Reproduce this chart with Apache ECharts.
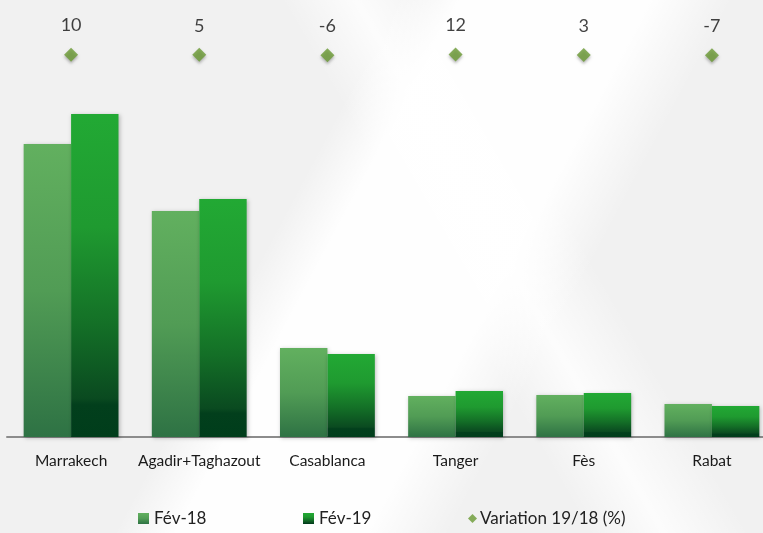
<!DOCTYPE html>
<html><head><meta charset="utf-8">
<script src="https://cdn.jsdelivr.net/npm/echarts@6/dist/echarts.min.js"></script>
<style>
html,body{margin:0;padding:0;}
body{width:763px;height:533px;overflow:hidden;
background:
 linear-gradient(118deg, rgba(255,255,255,0) 0%, rgba(255,255,255,0) 38%, rgba(255,255,255,0.95) 44%, rgba(255,255,255,0.95) 62%, rgba(255,255,255,0) 70%),
 linear-gradient(60deg, rgba(255,255,255,0) 55%, rgba(255,255,255,0.8) 62%, rgba(255,255,255,0) 70%),
 #f1f1f1;}
#c{width:776px;height:533px;}
</style></head>
<body><div id="c"></div>
<script>
const categories = ['Marrakech','Agadir+Taghazout','Casablanca','Tanger','Fès','Rabat'];
const fev18 = [586, 452, 178, 82, 84, 66];
const fev19 = [646, 476, 166, 92, 88, 62];
const variation = [10, 5, -6, 12, 3, -7];
const seriesNames = ['Fév-18','Fév-19','Variation 19/18 (%)'];

const FONT = 'Lato, "Open Sans", sans-serif';
const g18 = new echarts.graphic.LinearGradient(0,0,0,1,[
  {offset:0,color:'#62b05f'},{offset:0.5,color:'#519c55'},{offset:1,color:'#2e7244'}]);
const g19 = new echarts.graphic.LinearGradient(0,0,0,1,[
  {offset:0,color:'#22a934'},{offset:0.35,color:'#1f9a30'},{offset:0.65,color:'#147027'},{offset:0.88,color:'#0a4a20'},{offset:0.9,color:'#023f1c'},{offset:1,color:'#003d1b'}]);

const chart = echarts.init(document.getElementById('c'), null, {renderer:'canvas'});
const legendBase = {bottom:1, itemWidth:11, itemHeight:11, textStyle:{fontFamily:FONT,fontSize:17,color:'#222'}, selectedMode:false};
chart.setOption({
  backgroundColor:'transparent',
  animation:false,
  grid:{left:7, top:0, bottom:96, right:0, containLabel:false},
  legend:[
    Object.assign({}, legendBase, {left:133, data:[{name:seriesNames[0], icon:'rect'}]}),
    Object.assign({}, legendBase, {left:298, data:[{name:seriesNames[1], icon:'rect'}]}),
    Object.assign({}, legendBase, {left:463, itemWidth:9, itemHeight:9, textStyle:{fontFamily:FONT,fontSize:17,color:'#222',padding:[0,0,0,-2]}, data:[{name:seriesNames[2], icon:'diamond'}]})
  ],
  xAxis:{type:'category', data:categories,
    axisLine:{lineStyle:{color:'#8c8c8c', width:2}},
    axisTick:{show:false},
    axisLabel:{interval:0, fontFamily:FONT, fontSize:15.5, color:'#1a1a1a', margin:16}},
  yAxis:[
    {type:'value', min:0, max:874, show:false, splitLine:{show:false}},
    {type:'value', min:-8740, max:1260, show:false, splitLine:{show:false}}
  ],
  series:[
    {name:seriesNames[0], type:'bar', data:fev18, barGap:'0%', barCategoryGap:'26%',
     itemStyle:{color:g18, shadowColor:'rgba(0,0,0,0.25)', shadowBlur:4, shadowOffsetX:1, shadowOffsetY:1}},
    {name:seriesNames[1], type:'bar', data:fev19, barGap:'0%', barCategoryGap:'26%',
     itemStyle:{color:g19, shadowColor:'rgba(0,0,0,0.25)', shadowBlur:4, shadowOffsetX:1, shadowOffsetY:1}},
    {name:seriesNames[2], type:'scatter', yAxisIndex:1, data:variation, symbol:'diamond', symbolSize:14,
     itemStyle:{color:'#6a9a33', shadowColor:'rgba(0,0,0,0.35)', shadowBlur:3, shadowOffsetY:2},
     label:{show:true, position:'top', distance:13, fontFamily:FONT, fontSize:18, color:'#111'}}
  ]
});
</script></body></html>
